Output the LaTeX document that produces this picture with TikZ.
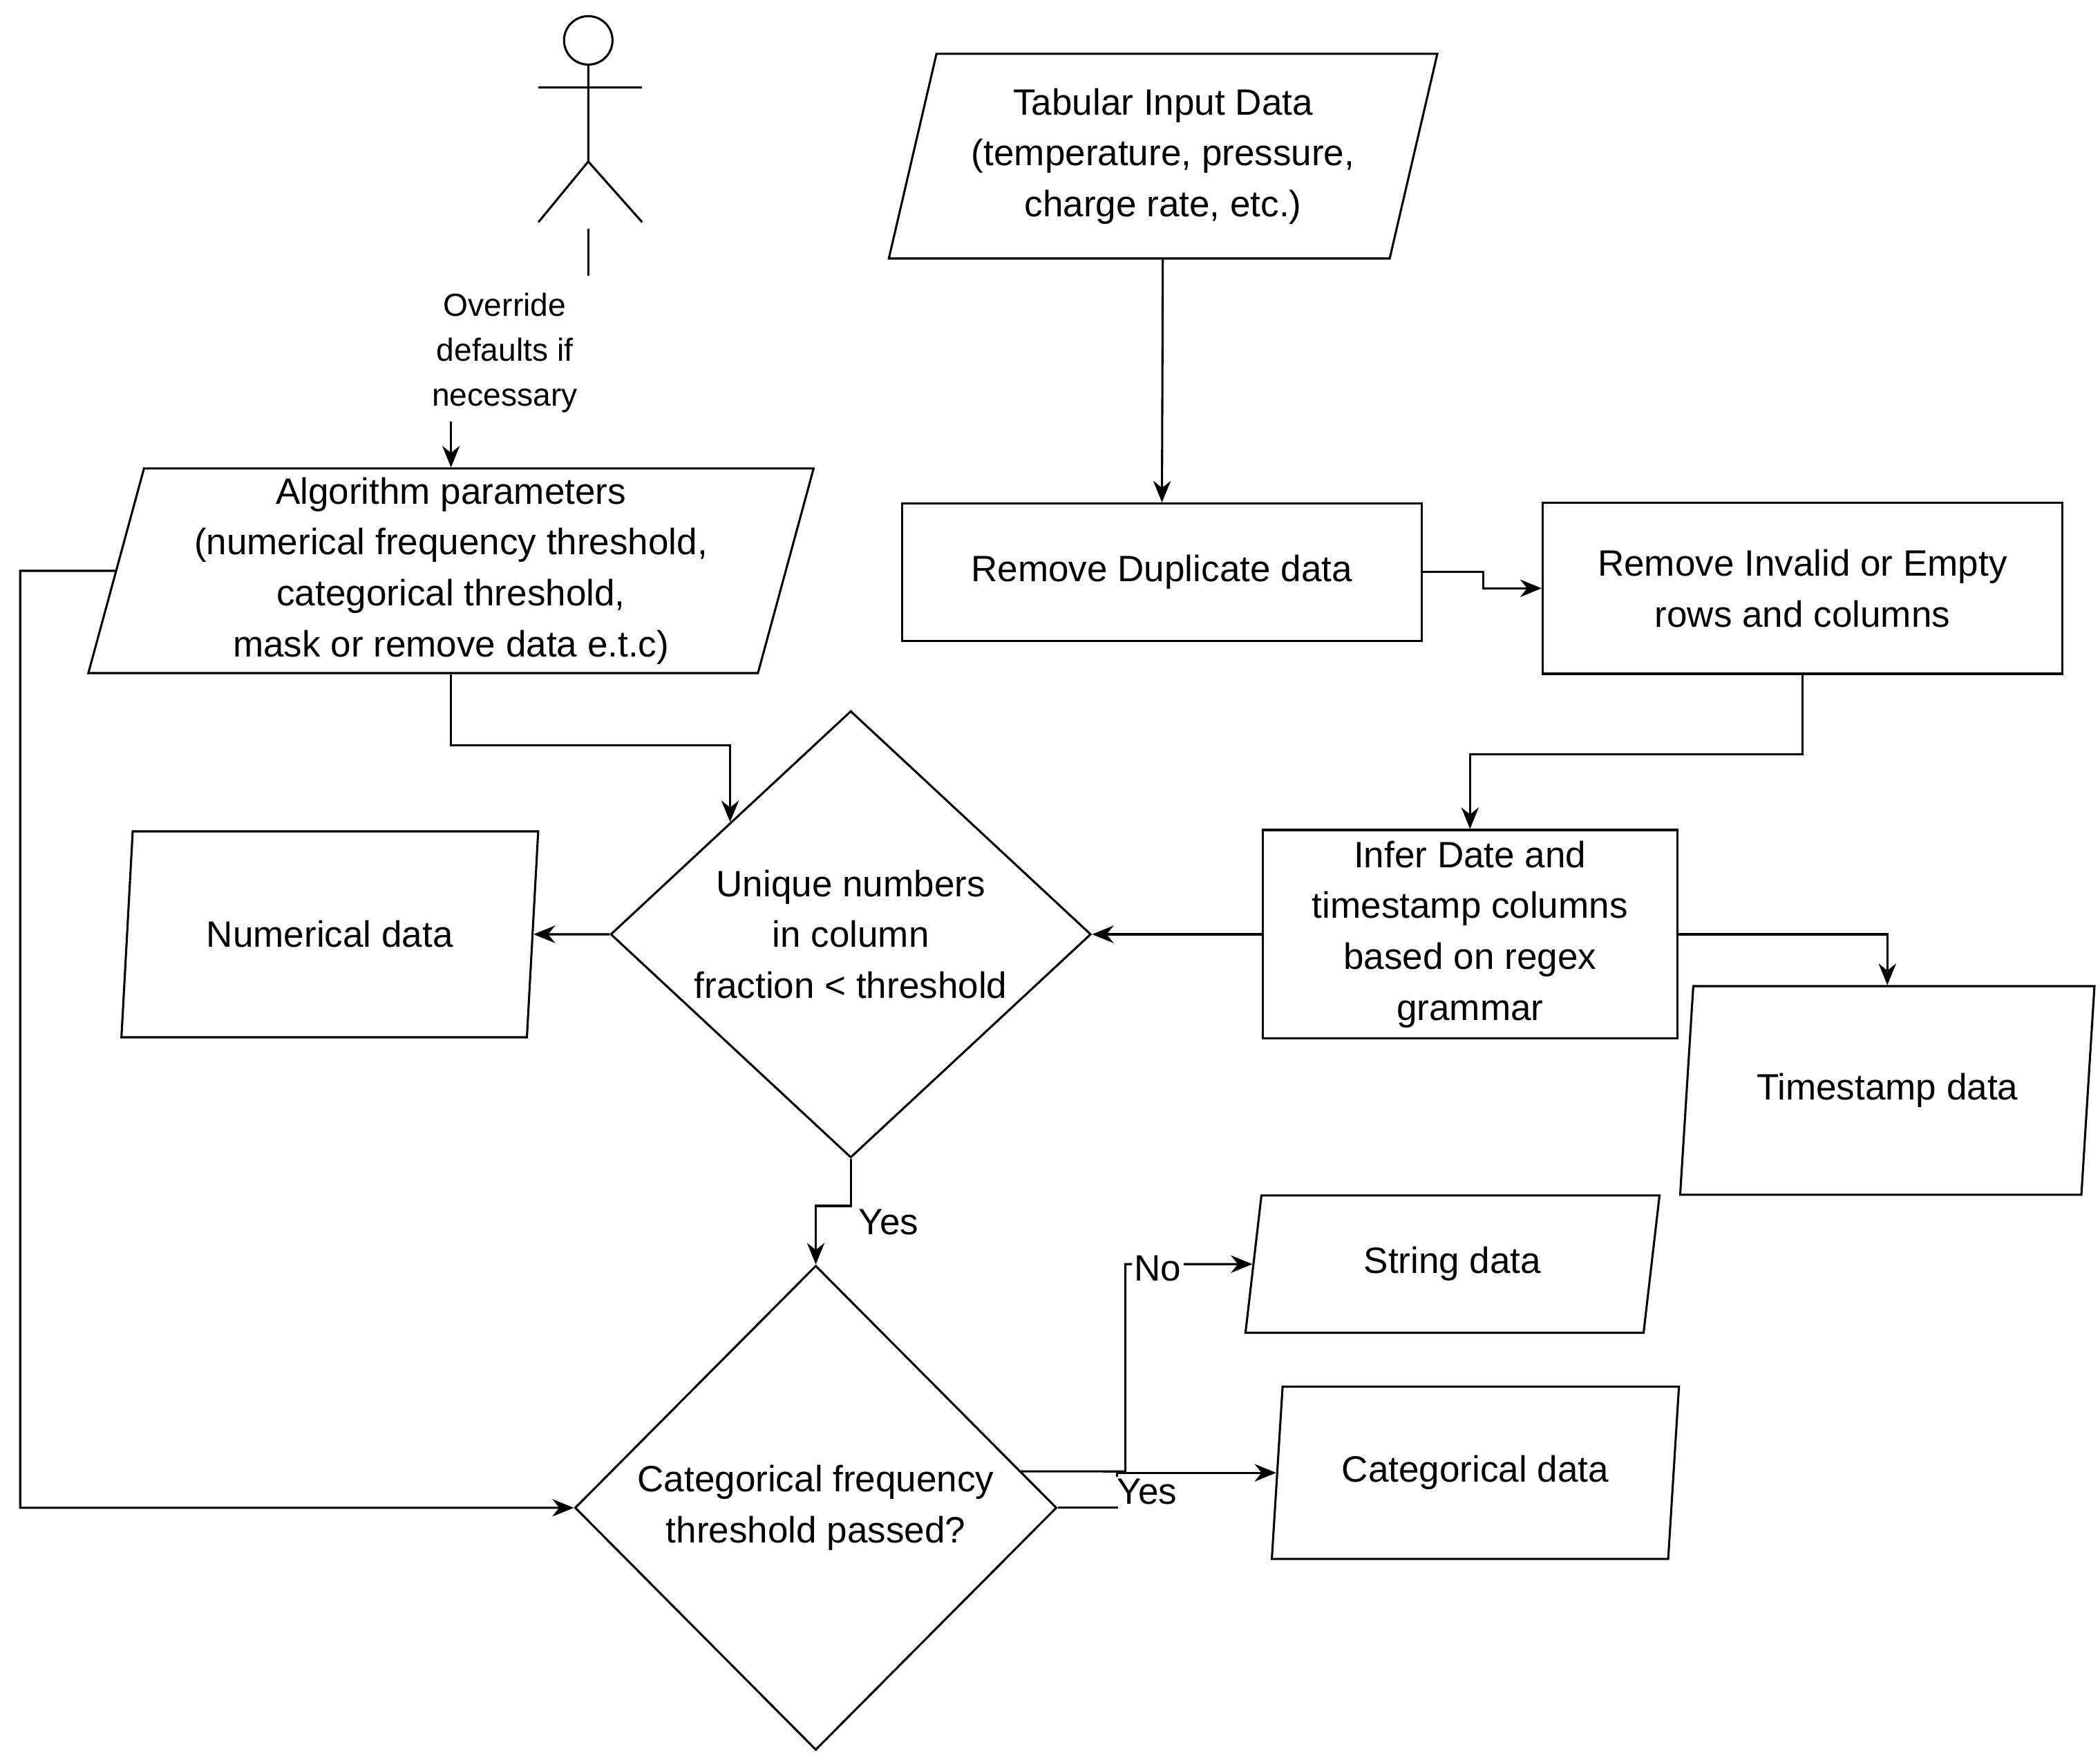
\documentclass[tikz,border=0pt]{standalone}
\usepackage{fontspec}
\setmainfont{Liberation Sans}
\usetikzlibrary{shapes.geometric, arrows.meta, positioning, calc}

\begin{document}
\begin{tikzpicture}[
    x=0.02cm, y=-0.02cm,
    line width=0.9pt,
    every node/.style={font=\fontsize{15.5}{21.5}\selectfont, align=center},
    box/.style={rectangle, draw, minimum width=#1, inner sep=2pt},
    io/.style={trapezium, draw, trapezium stretches=true, trapezium left angle=#1, trapezium right angle=180-#1, inner sep=0pt},
    test/.style={diamond, draw, inner sep=0pt},
    arrow/.style={-{Stealth[length=3.2mm, width=2.6mm]}},
    tag/.style={fill=white, inner sep=1pt}
]
\useasboundingbox (0,0) rectangle (1560,1304);

% Actor
\draw (437,30) circle (18);
\draw (437,48) -- (437,120) (400,65) -- (477,65)
      (400,165) -- (437,120) -- (477,165);
\draw (437,170) -- (437,205);
\node[font=\fontsize{13.5}{19}\selectfont] (ovr) at (375,262) {Override\\defaults if\\necessary};

% Inputs and parameters
\node[io=76, minimum width=10.8cm, minimum height=3.04cm] (alg) at (335,424)
    {Algorithm parameters\\(numerical frequency threshold,\\categorical threshold,\\mask or remove data e.t.c)};
\node[io=73.5, minimum width=8.16cm, minimum height=3.04cm] (tab) at (864,116)
    {Tabular Input Data\\(temperature, pressure,\\charge rate, etc.)};

% Processing steps
\node[box=7.72cm, minimum height=2.04cm] (dup) at (863,425) {Remove Duplicate data};
\node[box=7.72cm, minimum height=2.54cm] (inv) at (1339,437) {Remove Invalid or Empty\\rows and columns};
\node[box=6.16cm, minimum height=3.1cm] (infer) at (1092,694) {Infer Date and\\timestamp columns\\based on regex\\grammar};

% Decisions
\node[test, minimum width=7.14cm, minimum height=6.64cm] (uniq) at (632,694) {Unique numbers\\in column\\fraction < threshold};
\node[test, minimum width=7.16cm, minimum height=7.2cm] (cat) at (606,1120) {Categorical frequency\\threshold passed?};

% Outputs
\node[io=75.3, minimum width=6.2cm, minimum height=3.06cm] (num) at (245,694) {Numerical data};
\node[io=75.5, minimum width=6.16cm, minimum height=3.1cm] (ts) at (1402,810) {Timestamp data};
\node[io=77.8, minimum width=6.16cm, minimum height=2.04cm] (str) at (1079,939) {String data};
\node[io=77.7, minimum width=6.06cm, minimum height=2.56cm] (catd) at (1096,1094) {Categorical data};

% Connectors
\draw[arrow] (alg.north |- ovr.south) -- (alg.north);
\draw[arrow] (tab) -- (dup);
\draw[arrow] (dup.east) -- ++(45,0) |- (inv.west);
\draw[arrow] (inv.south) -- ++(0,59) -| (infer.north);
\draw[arrow] (infer.west) -- (uniq.east);
\draw[arrow] (infer.east) -| (ts.north);
\coordinate (uin) at ($(uniq.north)!0.5!(uniq.west)$);
\draw[arrow] (alg.south) -- ++(0,53) -| (uin);
\draw[arrow] (uniq.west) -- (num.east);
\draw[arrow] (uniq.south) -- ++(0,35) -| (cat.north);
\node[tag] (yes1) at (660,908) {Yes};
\coordinate (fb) at (15,424);
\draw[arrow] (alg.west) -- (fb) |- (cat.west);
\coordinate (cno) at ($(cat.north)!0.85!(cat.east)$);
\draw[arrow] (cno) -- (836,1093) |- (str.west);
\node[tag] (no) at (860,942) {No};
\draw[arrow] (cat.east) -- (830,1120) |- (catd.west);
\node[tag] (yes2) at (852,1108) {Yes};

\end{tikzpicture}
\end{document}
